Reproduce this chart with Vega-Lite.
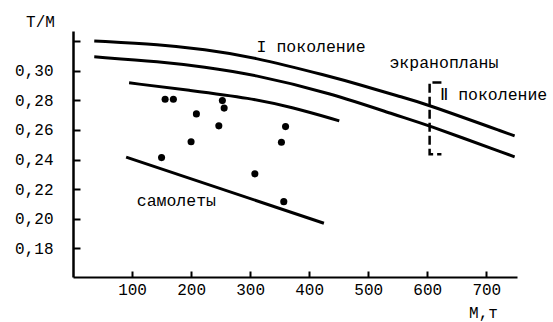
{
  "$schema": "https://vega.github.io/schema/vega-lite/v6.json",
  "width": 444,
  "height": 246,
  "autosize": {"type": "none"},
  "padding": {"left": 73, "top": 31, "right": 36, "bottom": 45},
  "background": "white",
  "config": {"view": {"stroke": null}, "font": "Liberation Mono"},
  "datasets": {
    "curves": [
      {"curve": "I", "x": 36, "y": 0.3203},
      {"curve": "I", "x": 149, "y": 0.3178},
      {"curve": "I", "x": 222, "y": 0.3145},
      {"curve": "I", "x": 301, "y": 0.3098},
      {"curve": "I", "x": 436, "y": 0.2962},
      {"curve": "I", "x": 487, "y": 0.2905},
      {"curve": "I", "x": 555, "y": 0.2824},
      {"curve": "I", "x": 588, "y": 0.279},
      {"curve": "I", "x": 748, "y": 0.256},
      {"curve": "II", "x": 36, "y": 0.3095},
      {"curve": "II", "x": 149, "y": 0.3063},
      {"curve": "II", "x": 222, "y": 0.3027},
      {"curve": "II", "x": 301, "y": 0.298},
      {"curve": "II", "x": 436, "y": 0.2851},
      {"curve": "II", "x": 555, "y": 0.2689},
      {"curve": "II", "x": 588, "y": 0.2652},
      {"curve": "II", "x": 748, "y": 0.2418},
      {"curve": "III", "x": 95, "y": 0.2919},
      {"curve": "III", "x": 199, "y": 0.2868},
      {"curve": "III", "x": 301, "y": 0.2815},
      {"curve": "III", "x": 369, "y": 0.2756},
      {"curve": "III", "x": 451, "y": 0.2662},
      {"curve": "IV", "x": 90, "y": 0.2416},
      {"curve": "IV", "x": 425, "y": 0.1969}
    ],
    "bracket": [
      {"i": 1, "x": 624, "y": 0.2921},
      {"i": 2, "x": 604, "y": 0.2921},
      {"i": 3, "x": 604, "y": 0.2436},
      {"i": 4, "x": 624, "y": 0.2436}
    ],
    "points": [
      {"x": 156, "y": 0.2808},
      {"x": 170, "y": 0.2808},
      {"x": 253, "y": 0.2799},
      {"x": 256, "y": 0.2748},
      {"x": 209, "y": 0.2709},
      {"x": 247, "y": 0.2628},
      {"x": 360, "y": 0.2623},
      {"x": 200, "y": 0.2521},
      {"x": 353, "y": 0.2517},
      {"x": 150, "y": 0.2413},
      {"x": 308, "y": 0.2303},
      {"x": 357, "y": 0.2115}
    ],
    "labels": [
      {"x": 311, "y": 0.3129, "text": "I поколение"},
      {"x": 536, "y": 0.302, "text": "экранопланы"},
      {"x": 622, "y": 0.2804, "text": "Ⅱ поколение"},
      {"x": 108, "y": 0.2083, "text": "самолеты"}
    ]
  },
  "encoding": {
    "x": {
      "field": "x",
      "type": "quantitative",
      "title": "М,т",
      "scale": {"domain": [0, 752], "nice": false, "zero": false},
      "axis": {
        "values": [100, 200, 300, 400, 500, 600, 700],
        "format": "d",
        "grid": false,
        "labelFont": "Liberation Mono",
        "labelFontSize": 16,
        "labelColor": "black",
        "labelPadding": 10,
        "labelFlush": false,
        "labelOverlap": false,
        "tickSize": -6,
        "tickWidth": 2,
        "tickColor": "black",
        "domainColor": "black",
        "domainWidth": 2,
        "titleFont": "Liberation Mono",
        "titleFontSize": 16,
        "titleFontWeight": "normal",
        "titleColor": "black",
        "titleX": 410,
        "titleY": 40,
        "titleAlign": "center",
        "titleBaseline": "alphabetic"
      }
    },
    "y": {
      "field": "y",
      "type": "quantitative",
      "title": "T/M",
      "scale": {"domain": [0.1605, 0.327], "nice": false, "zero": false},
      "axis": {
        "values": [0.18, 0.2, 0.22, 0.24, 0.26, 0.28, 0.3, 0.32],
        "labelExpr": "datum.value > 0.315 ? '' : replace(format(datum.value, '.2f'), '.', ',')",
        "grid": false,
        "labelFont": "Liberation Mono",
        "labelFontSize": 16,
        "labelColor": "black",
        "labelPadding": 27,
        "labelOverlap": false,
        "labelFlush": false,
        "tickSize": -7,
        "tickWidth": 2,
        "tickColor": "black",
        "domainColor": "black",
        "domainWidth": 2.5,
        "titleFont": "Liberation Mono",
        "titleFontSize": 16,
        "titleFontWeight": "normal",
        "titleColor": "black",
        "titleAngle": 0,
        "titleX": -33,
        "titleY": -4.5,
        "titleAlign": "center",
        "titleBaseline": "alphabetic"
      }
    }
  },
  "layer": [
    {
      "data": {"name": "curves"},
      "mark": {"type": "line", "color": "black", "strokeWidth": 3, "interpolate": "basis"},
      "encoding": {"detail": {"field": "curve"}}
    },
    {
      "data": {"name": "bracket"},
      "mark": {"type": "line", "color": "black", "strokeWidth": 2.5, "strokeDash": [9, 4]},
      "encoding": {"order": {"field": "i", "type": "quantitative"}}
    },
    {
      "data": {"name": "points"},
      "mark": {"type": "circle", "color": "black", "opacity": 1, "size": 50}
    },
    {
      "data": {"name": "labels"},
      "mark": {"type": "text", "align": "left", "baseline": "alphabetic", "font": "Liberation Mono", "fontSize": 16.5, "color": "black"},
      "encoding": {"text": {"field": "text"}}
    }
  ]
}
